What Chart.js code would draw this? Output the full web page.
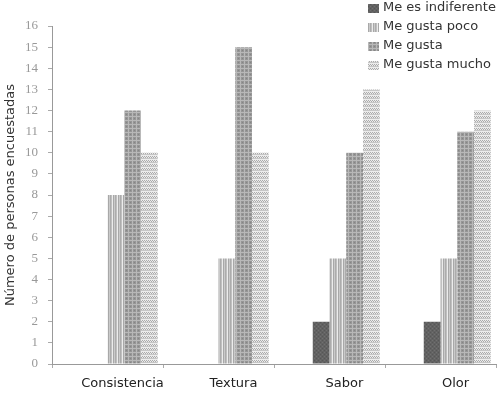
<!DOCTYPE html>
<html><head><meta charset="utf-8">
<script src="https://cdn.jsdelivr.net/npm/chart.js@4/dist/chart.umd.min.js"></script>
<style>html,body{margin:0;padding:0;background:#fff;}#wrap{width:503px;height:395px;}</style>
</head><body><div id="wrap"><canvas id="c" width="503" height="395"></canvas></div>
<script>
const categories = ['Consistencia', 'Textura', 'Sabor', 'Olor'];
const seriesLabels = ['Me es indiferente', 'Me gusta poco', 'Me gusta', 'Me gusta mucho'];
const indiferente = [0, 0, 2, 2];
const gustaPoco = [8, 5, 5, 5];
const gusta = [12, 15, 10, 11];
const gustaMucho = [10, 10, 13, 12];
const emptySlot = [null, null, null, null];
const yTitle = 'Número de personas encuestadas';

function makePattern(w, h, draw) {
  const c = document.createElement('canvas');
  c.width = w; c.height = h;
  const x = c.getContext('2d');
  draw(x);
  return x.createPattern(c, 'repeat');
}
const patIndif = makePattern(4, 4, x => {
  x.fillStyle = '#626262'; x.fillRect(0, 0, 4, 4);
  x.fillStyle = '#707070'; x.fillRect(0, 0, 1, 1); x.fillRect(2, 2, 1, 1);
  x.fillStyle = '#565656'; x.fillRect(2, 0, 1, 1); x.fillRect(0, 2, 1, 1);
});
const patPoco = makePattern(5, 4, x => {
  const cols = ['#acacac', '#c0c0c0', '#ececec', '#a8a8a8', '#cacaca'];
  cols.forEach((c, i) => { x.fillStyle = c; x.fillRect(i, 0, 1, 4); });
});
const patGusta = makePattern(4, 4, x => {
  x.fillStyle = '#969696'; x.fillRect(0, 0, 4, 4);
  x.fillStyle = '#b8b8b8'; x.fillRect(0, 0, 4, 1); x.fillRect(0, 0, 1, 4);
  x.fillStyle = '#858585'; x.fillRect(2, 2, 1, 1);
});
const patMucho = makePattern(4, 4, x => {
  x.fillStyle = '#ececec'; x.fillRect(0, 0, 4, 4);
  x.fillStyle = '#ababab';
  x.fillRect(0, 0, 1, 1); x.fillRect(2, 0, 1, 1); x.fillRect(1, 1, 1, 1); x.fillRect(3, 1, 1, 1);
  x.fillStyle = '#c6c6c6'; x.fillRect(0, 2, 4, 1);
});
const patterns = [patIndif, patPoco, patGusta, patMucho];
const seriesData = [indiferente, gustaPoco, gusta, gustaMucho];

const datasets = [
  { label: '', data: emptySlot, legend: false },
  { label: '', data: emptySlot, legend: false }
];
seriesLabels.forEach((l, i) => datasets.push({
  label: l, data: seriesData[i], backgroundColor: patterns[i], borderWidth: 0, legend: true
}));

const legendPlugin = {
  id: 'boxLegend',
  afterDraw(chart) {
    const ctx = chart.ctx;
    ctx.save();
    ctx.font = '13px "DejaVu Sans"';
    ctx.textBaseline = 'middle';
    ctx.textAlign = 'left';
    let row = 0;
    chart.data.datasets.forEach(ds => {
      if (!ds.legend) return;
      const y = 8 + row * 19;
      ctx.fillStyle = ds.backgroundColor;
      ctx.fillRect(368, y - 4, 11, 9);
      ctx.fillStyle = '#333';
      ctx.fillText(ds.label, 383, y);
      row++;
    });
    ctx.restore();
  }
};

new Chart(document.getElementById('c'), {
  type: 'bar',
  data: { labels: categories, datasets },
  plugins: [legendPlugin],
  options: {
    responsive: false,
    animation: false,
    devicePixelRatio: 1,
    layout: { padding: { top: 26, right: 7, left: 0, bottom: 0 } },
    plugins: { legend: { display: false }, tooltip: { enabled: false } },
    datasets: { bar: { categoryPercentage: 0.905, barPercentage: 1 } },
    scales: {
      x: {
        offset: true,
        grid: { display: true, drawOnChartArea: false, drawTicks: true, tickLength: 4, color: '#aaa', offset: true },
        border: { display: true, color: '#999' },
        ticks: { font: { family: 'DejaVu Sans', size: 13 }, color: '#222', padding: 8, labelOffset: 15, maxRotation: 0 },
        afterFit(s) { s.height = 31; }
      },
      y: {
        min: 0, max: 16,
        grid: { display: true, drawOnChartArea: false, drawTicks: true, tickLength: 4, color: '#aaa' },
        border: { display: true, color: '#999' },
        ticks: { stepSize: 1, font: { family: "'Liberation Serif', serif", size: 13 }, color: '#999', padding: 10 },
        title: { display: true, text: yTitle, font: { family: 'DejaVu Sans', size: 13 }, color: '#333', padding: { top: 3, bottom: 0 } },
        afterFit(s) { s.width = 52; }
      }
    }
  }
});
</script></body></html>
